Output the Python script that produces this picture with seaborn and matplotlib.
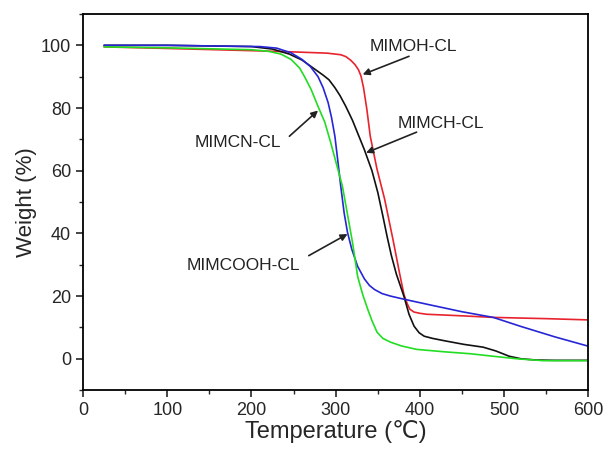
import numpy as np
import pandas as pd
import seaborn as sns
import matplotlib.pyplot as plt
from matplotlib.ticker import MultipleLocator

# TGA curves
t_oh = [25, 100, 200, 250, 290, 306, 312, 318, 323, 327, 330, 333, 337, 341, 349, 358, 368, 376, 381, 385, 388,
        393, 400, 408, 450, 487, 550, 600]
w_oh = [99.5, 99.0, 98.3, 97.9, 97.5, 97.0, 96.4, 95.2, 93.8, 92.2, 90.2, 86.5, 79.5, 71, 60.5, 51, 38, 27, 20.5, 17.5,
        15.8, 14.9, 14.5, 14.2, 13.7, 13.2, 12.8, 12.4]

t_ch = [25, 100, 200, 225, 245, 260, 272, 285, 292, 299, 305, 312, 320, 334, 343, 350, 356, 361, 366, 372, 381, 387,
        393, 399, 405, 415, 430, 452, 475, 490, 506, 520, 538, 560, 600]
w_ch = [100, 100, 99.6, 98.8, 97.2, 95.3, 93, 90.5, 89, 86.5, 84, 80.5, 76, 66.7, 60, 53, 45.5, 39, 33, 27, 19.9, 14.2,
        10.4, 8.3, 7.2, 6.5, 5.7, 4.6, 3.7, 2.5, 0.8, 0, -0.4, -0.5, -0.5]

t_cn = [25, 100, 210, 230, 247, 260, 270, 279, 285, 291, 295, 299, 303, 306, 310, 314, 319, 326, 334, 340, 346,
        355, 365, 381, 410, 450, 487, 520, 560, 600]
w_cn = [100, 100, 99.6, 99.1, 97.6, 95.5, 93.2, 90, 86.5, 81.7, 77, 71, 62, 55, 46.5, 40.3, 35, 29.5, 25.5, 23.4, 22.1,
        20.8, 20, 19, 17.3, 15, 13.2, 10.3, 7, 4]

t_cooh = [25, 100, 200, 220, 235, 247, 257, 263, 271, 279, 287, 294, 301, 308, 314, 320, 326, 332, 338, 343,
          349, 356, 365, 378, 396, 430, 460, 487, 515, 546, 600]
w_cooh = [99.5, 99.2, 98.6, 98.1, 97.2, 95.5, 92.8, 90, 85.8, 80.5, 75.5, 69, 62, 55, 46, 37, 26.3, 20.5, 15.8, 12.2,
          8.5, 6.5, 5.3, 4.1, 3.0, 2.2, 1.6, 0.8, 0, -0.6, -0.6]

labels = ["MIMOH-CL", "MIMCH-CL", "MIMCN-CL", "MIMCOOH-CL"]
colors = ["#e8232e", "#111111", "#2626d6", "#22dd22"]

series = [(t_oh, w_oh), (t_ch, w_ch), (t_cn, w_cn), (t_cooh, w_cooh)]

# annotation positions: text xy, arrow tail, arrow head
ann_text = [(340, 99.7), (373, 75), (132, 69), (123, 29.7)]
ann_tail = [(387, 96.5), (396, 72.3), (245, 71), (268, 32.9)]
ann_head = [(332, 90.7), (336, 65.7), (279, 79.2), (314, 39.8)]

sns.set_style("ticks")
plt.rcParams['font.family'] = ['Liberation Sans', 'DejaVu Sans']

fig = plt.figure(figsize=(6.06, 4.51), dpi=100)
ax = fig.add_axes([0.137, 0.135, 0.834, 0.834])

for (t, w), lab, c in zip(series, labels, colors):
    df = pd.DataFrame({"T": t, "W": w})
    sns.lineplot(data=df, x="T", y="W", color=c, lw=1.2, ax=ax)

for lab, txt, tail, head in zip(labels, ann_text, ann_tail, ann_head):
    ax.annotate("", xy=head, xytext=tail,
                arrowprops=dict(arrowstyle="-|>", color="#222222", lw=1.2,
                                mutation_scale=10, shrinkA=0, shrinkB=0))
    ax.text(txt[0], txt[1], lab, fontsize=12.5, va="center", ha="left", color="#222222")

ax.set_xlim(0, 600)
ax.set_ylim(-10, 110)
ax.set_xticks(np.arange(0, 601, 100))
ax.set_yticks(np.arange(0, 101, 20))
ax.xaxis.set_minor_locator(MultipleLocator(50))
ax.yaxis.set_minor_locator(MultipleLocator(10))
ax.tick_params(which="major", direction="out", length=5, width=1.2, labelsize=13)
ax.tick_params(which="minor", direction="out", length=3, width=1.0)
ax.tick_params(top=False, right=False)
for s in ax.spines.values():
    s.set_linewidth(1.3)
    s.set_color("black")

ax.set_xlabel("Temperature (\u2103)", fontsize=17, labelpad=1)
ax.set_ylabel("Weight (%)", fontsize=16, labelpad=3)

plt.savefig("out.png", dpi=100)
